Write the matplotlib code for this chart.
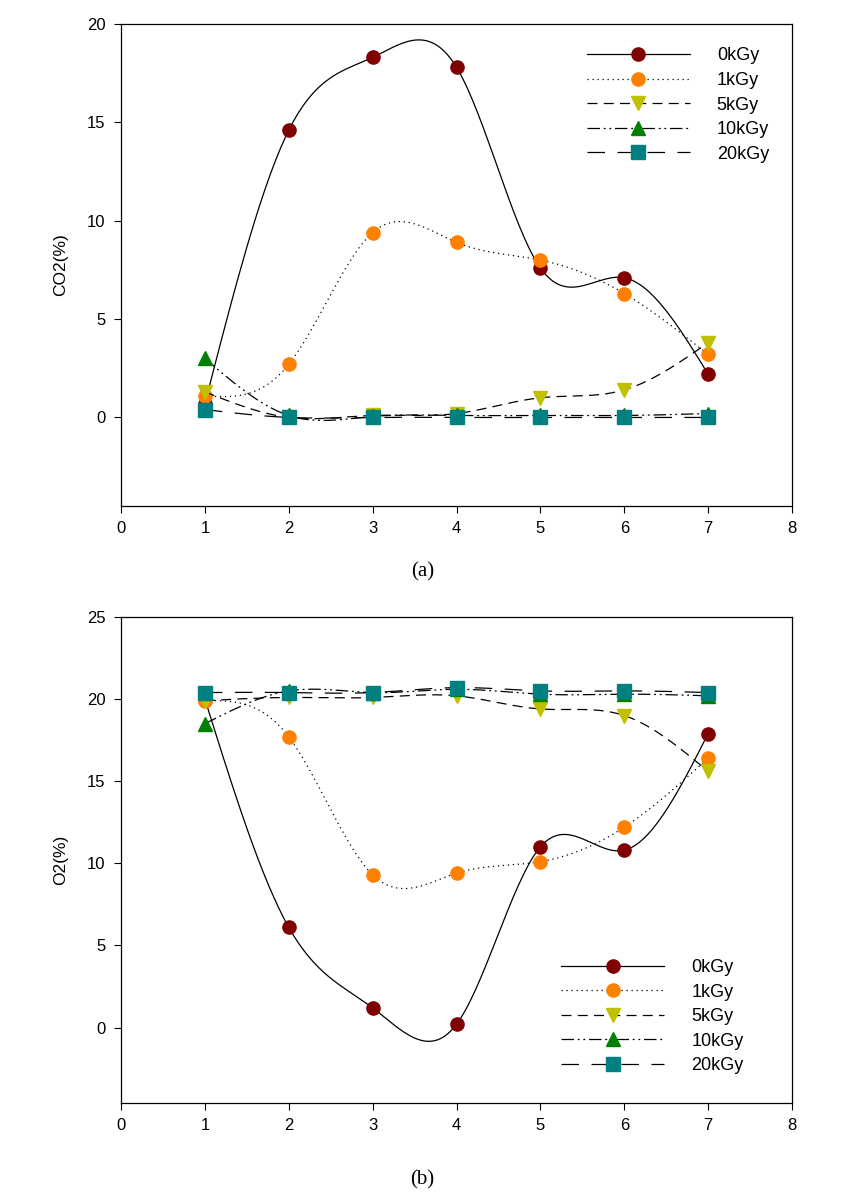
import numpy as np
import matplotlib.pyplot as plt

days = [1, 2, 3, 4, 5, 6, 7]
labels = ['0kGy', '1kGy', '5kGy', '10kGy', '20kGy']

co2_0 = [0.7, 14.6, 18.3, 17.8, 7.6, 7.1, 2.2]
co2_1 = [1.1, 2.7, 9.4, 8.9, 8.0, 6.3, 3.2]
co2_5 = [1.3, 0.0, 0.1, 0.2, 1.0, 1.4, 3.8]
co2_10 = [3.0, 0.1, 0.05, 0.1, 0.1, 0.1, 0.2]
co2_20 = [0.4, 0.0, 0.0, 0.0, 0.0, 0.0, 0.0]

o2_0 = [20.0, 6.1, 1.2, 0.2, 11.0, 10.8, 17.9]
o2_1 = [19.9, 17.7, 9.3, 9.4, 10.1, 12.2, 16.4]
o2_5 = [19.9, 20.1, 20.1, 20.2, 19.4, 19.0, 15.6]
o2_10 = [18.5, 20.5, 20.4, 20.6, 20.3, 20.3, 20.2]
o2_20 = [20.4, 20.4, 20.4, 20.7, 20.5, 20.5, 20.4]

colors = ['#800000', '#ff8000', '#c0c000', '#008000', '#008080']
markers = ['o', 'o', 'v', '^', 's']
styles = ['-', (0, (1, 3)), (0, (8, 5)), (0, (10, 3, 1.5, 3, 1.5, 3)), (0, (14, 10))]

plt.rcParams['font.family'] = ['Liberation Sans', 'DejaVu Sans']


def spline(x, y, n=200):
    # natural cubic spline through the points
    x = np.asarray(x, float)
    y = np.asarray(y, float)
    m = len(x)
    h = np.diff(x)
    A = np.zeros((m, m))
    b = np.zeros(m)
    A[0, 0] = A[-1, -1] = 1
    for i in range(1, m - 1):
        A[i, i - 1] = h[i - 1]
        A[i, i] = 2 * (h[i - 1] + h[i])
        A[i, i + 1] = h[i]
        b[i] = 6 * ((y[i + 1] - y[i]) / h[i] - (y[i] - y[i - 1]) / h[i - 1])
    M = np.linalg.solve(A, b)
    xs = np.linspace(x[0], x[-1], n)
    idx = np.clip(np.searchsorted(x, xs) - 1, 0, m - 2)
    t1 = x[idx + 1] - xs
    t0 = xs - x[idx]
    hi = h[idx]
    ys = (M[idx] * t1 ** 3 + M[idx + 1] * t0 ** 3) / (6 * hi) \
        + (y[idx] / hi - M[idx] * hi / 6) * t1 \
        + (y[idx + 1] / hi - M[idx + 1] * hi / 6) * t0
    return xs, ys


def panel(ax, series, ylabel, ylim, yticks, leg_anchor):
    for s, lab, c, mk, ls in zip(series, labels, colors, markers, styles):
        xs, ys = spline(days, s)
        ax.plot(xs, ys, color='black', lw=0.9, ls=ls)
        ax.plot(days, s, ls='none', marker=mk, color=c, ms=9.5, mec=c)
        ax.plot([], [], color='black', lw=0.9, ls=ls, marker=mk, mfc=c,
                mec=c, ms=9.5, label=lab)
    ax.set_xlim(0, 8)
    ax.set_ylim(*ylim)
    ax.set_xticks(range(0, 9))
    ax.set_yticks(yticks)
    ax.set_ylabel(ylabel, fontsize=12.5, labelpad=14)
    ax.tick_params(direction='out', length=5, pad=6, labelsize=12, width=0.8)
    for sp in ax.spines.values():
        sp.set_linewidth(0.9)
    ax.legend(frameon=False, handlelength=5.7, fontsize=13, loc='upper right',
              bbox_to_anchor=leg_anchor, labelspacing=0.42, handletextpad=1.5)


fig = plt.figure(figsize=(8.45, 11.99), dpi=100)
ax1 = fig.add_axes([0.1432, 0.578, 0.7941, 0.402])
ax2 = fig.add_axes([0.1432, 0.080, 0.7941, 0.4054])

panel(ax1, [co2_0, co2_1, co2_5, co2_10, co2_20], 'CO2(%)', (-4.5, 20),
      [0, 5, 10, 15, 20], (0.99, 0.985))
panel(ax2, [o2_0, o2_1, o2_5, o2_10, o2_20], 'O2(%)', (-4.6, 25),
      [0, 5, 10, 15, 20, 25], (0.952, 0.33))

fig.text(0.5, 1 - 572 / 1199, '(a)', ha='center', va='center',
         fontsize=15, family='Liberation Serif')
fig.text(0.5, 1 - 1180 / 1199, '(b)', ha='center', va='center',
         fontsize=15, family='Liberation Serif')

fig.savefig('out.png', dpi=100)
